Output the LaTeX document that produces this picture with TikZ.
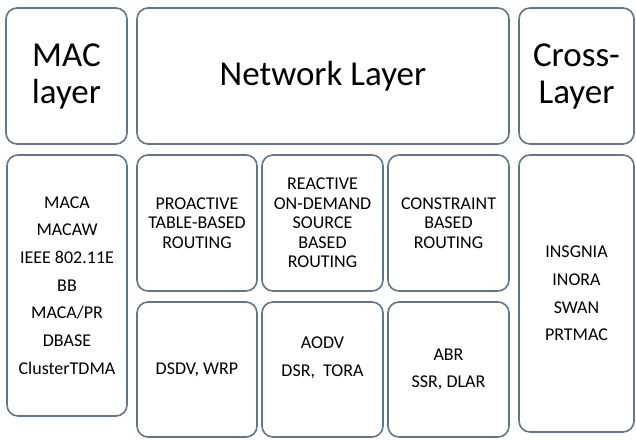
\documentclass[tikz,border=0pt]{standalone}
\usepackage{fontspec}
\setmainfont{Carlito}
\definecolor{boxline}{HTML}{627689}
\tikzset{
  box/.style={draw=boxline, line width=1.6pt, rounded corners=11pt, fill=white,
    inner sep=0pt, outer sep=0pt, align=center, text=black},
  big/.style={font=\fontsize{35}{37}\selectfont},
  small/.style={font=\fontsize{18}{19.5}\selectfont},
  list/.style={font=\fontsize{18}{27.7}\selectfont},
}
\begin{document}
\begin{tikzpicture}[x=1pt,y=-1pt]
\useasboundingbox (0,0) rectangle (636,439);
% top row
\node[box,big,minimum width=121pt,minimum height=136pt] (mac) at (66.5,76) {MAC\\layer};
\node[box,big,minimum width=372pt,minimum height=136pt] (net) at (323,76) {Network Layer};
\node[box,big,minimum width=115pt,minimum height=136pt] (cross) at (576.5,76) {Cross-\\Layer};
% MAC list
\node[box,list,minimum width=120pt,minimum height=261pt] (maclist) at (67,285.5)
  {MACA\\MACAW\\IEEE 802.11E\\BB\\MACA/PR\\DBASE\\ClusterTDMA};
% routing categories
\node[box,small,minimum width=120pt,minimum height=136pt] (pro) at (197,223)
  {PROACTIVE\\TABLE-BASED\\ROUTING};
\node[box,small,minimum width=121pt,minimum height=136pt] (rea) at (322.5,223)
  {REACTIVE\\ON-DEMAND\\SOURCE\\BASED\\ROUTING};
\node[box,small,minimum width=121pt,minimum height=136pt] (con) at (448.5,223)
  {CONSTRAINT\\BASED\\ROUTING};
% cross list
\node[box,list,minimum width=115pt,minimum height=277pt] (crosslist) at (576.5,293.5)
  {INSGNIA\\INORA\\SWAN\\PRTMAC};
% protocols
\node[box,list,minimum width=120pt,minimum height=135pt] (dsdv) at (197,369.5) {DSDV, WRP};
\node[box,minimum width=121pt,minimum height=135pt] (aodv) at (322.5,369.5) {};
\node[list,align=center,inner sep=0pt] (aodvtext) at ([yshift=12pt]aodv.center) {AODV\\DSR,\ \ TORA};
\node[box,list,minimum width=121pt,minimum height=135pt] (abr) at (448.5,369.5) {ABR\\SSR, DLAR};
\end{tikzpicture}
\end{document}
